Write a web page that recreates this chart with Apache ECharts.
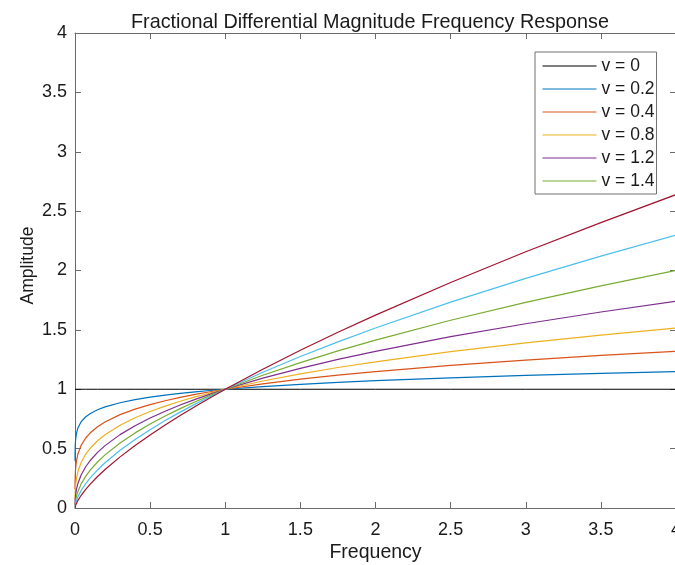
<!DOCTYPE html>
<html>
<head>
<meta charset="utf-8">
<script src="https://cdn.jsdelivr.net/npm/echarts@6/dist/echarts.min.js"></script>
<style>html,body{margin:0;padding:0;background:#fff}#c{width:675px;height:565px}</style>
</head>
<body>
<div id="c"></div>
<script>
const freq = [0.0001, 0.0005, 0.002, 0.005, 0.01, 0.02, 0.04, 0.07, 0.1, 0.15, 0.2, 0.3, 0.4, 0.5, 0.6, 0.7, 0.8, 0.9, 1, 1.25, 1.5, 1.75, 2, 2.5, 3, 3.5, 4];
const amp_v0   = [1,1,1,1,1,1,1,1,1,1,1,1,1,1,1,1,1,1,1,1,1,1,1,1,1,1,1];
const amp_v01  = [0.3981,0.4677,0.5372,0.5887,0.6310,0.6762,0.7248,0.7665,0.7943,0.8272,0.8513,0.8866,0.9124,0.9330,0.9502,0.9650,0.9779,0.9895,1,1.0226,1.0414,1.0576,1.0718,1.0960,1.1161,1.1335,1.1487];
const amp_v02  = [0.1585,0.2187,0.2886,0.3466,0.3981,0.4573,0.5253,0.5875,0.6310,0.6843,0.7248,0.7860,0.8325,0.8706,0.9029,0.9312,0.9563,0.9791,1,1.0457,1.0845,1.1185,1.1487,1.2012,1.2457,1.2848,1.3195];
const amp_v03  = [0.0631,0.1023,0.1550,0.2040,0.2512,0.3092,0.3807,0.4503,0.5012,0.5661,0.6170,0.6969,0.7596,0.8123,0.8579,0.8986,0.9352,0.9688,1,1.0693,1.1294,1.1829,1.2311,1.3165,1.3904,1.4563,1.5157];
const amp_v04  = [0.0251,0.0478,0.0833,0.1201,0.1585,0.2091,0.2759,0.3452,0.3981,0.4683,0.5253,0.6178,0.6931,0.7579,0.8152,0.8671,0.9145,0.9586,1,1.0935,1.1761,1.2510,1.3195,1.4429,1.5518,1.6507,1.7411];
const amp_v05  = [0.0100,0.0224,0.0447,0.0707,0.1000,0.1414,0.2000,0.2646,0.3162,0.3873,0.4472,0.5477,0.6325,0.7071,0.7746,0.8367,0.8944,0.9487,1,1.1180,1.2247,1.3229,1.4142,1.5811,1.7321,1.8708,2];
const amp_v06  = [0.0040,0.0105,0.0240,0.0416,0.0631,0.0956,0.1449,0.2028,0.2512,0.3205,0.3807,0.4857,0.5770,0.6598,0.7360,0.8075,0.8746,0.9386,1,1.1434,1.2755,1.3993,1.5157,1.7332,1.9332,2.1208,2.2974];
const amp_v07  = [0.0016,0.0049,0.0129,0.0245,0.0398,0.0647,0.1051,0.1554,0.1995,0.2650,0.3241,0.4305,0.5266,0.6156,0.6994,0.7791,0.8553,0.9289,1,1.1691,1.3282,1.4797,1.6245,1.8992,2.1577,2.4036,2.6390];

const legendLabels = ['v = 0', 'v = 0.2', 'v = 0.4', 'v = 0.8', 'v = 1.2', 'v = 1.4'];
const curveNames = ['v = 0', 'v = 0.2', 'v = 0.4', 'v = 0.8', 'v = 1.2', 'v = 1.4', 'extra1', 'extra2'];
const curves = [amp_v0, amp_v01, amp_v02, amp_v03, amp_v04, amp_v05, amp_v06, amp_v07];
const colors = ['#000000', '#0072BD', '#D95319', '#EDB120', '#7E2F8E', '#77AC30', '#4DBEEE', '#A2142F'];

const title = 'Fractional Differential Magnitude Frequency Response';
const xName = 'Frequency';
const yName = 'Amplitude';

const FONT = 'Liberation Sans, Arial, Helvetica, sans-serif';
const axisColor = '#6a6a6a';

const chart = echarts.init(document.getElementById('c'), null, {renderer: 'canvas'});

const series = curves.map((vals, i) => ({
  name: curveNames[i],
  type: 'line',
  xAxisIndex: 0,
  yAxisIndex: 0,
  data: freq.map((f, j) => [f, vals[j]]),
  showSymbol: false,
  symbol: 'none',
  animation: false,
  lineStyle: {color: colors[i], width: i === 0 ? 1 : 1.2},
  itemStyle: {color: colors[i]},
  z: 2 + i
}));

function axisBase() {
  return {
    min: 0, max: 4, interval: 0.5,
    axisLine: {show: true, onZero: false, lineStyle: {color: axisColor, width: 1}},
    axisTick: {show: true, inside: true, length: 6, lineStyle: {color: axisColor, width: 1}},
    splitLine: {show: false}
  };
}

chart.setOption({
  animation: false,
  backgroundColor: '#ffffff',
  title: {
    text: title,
    left: 365, top: 8, textAlign: 'center',
    textStyle: {fontFamily: FONT, fontSize: 19.8, fontWeight: 'normal', color: '#1a1a1a'}
  },
  grid: {left: 75, top: 33, width: 601, height: 475, containLabel: false, outerBoundsMode: 'none'},
  legend: {
    data: legendLabels,
    orient: 'vertical',
    left: 535, top: 52,
    padding: [5, 2, 4, 7],
    itemWidth: 54, itemHeight: 18, itemGap: 5,
    backgroundColor: '#ffffff',
    borderColor: '#707070', borderWidth: 1, borderRadius: 0,
    itemStyle: {opacity: 0},
    lineStyle: {width: 1},
    textStyle: {fontFamily: FONT, fontSize: 17.5, color: '#1a1a1a'},
    z: 20
  },
  xAxis: [
    Object.assign(axisBase(), {
      type: 'value', position: 'bottom', gridIndex: 0,
      name: xName, nameLocation: 'middle', nameGap: 35, nameMoveOverlap: false,
      nameTextStyle: {fontFamily: FONT, fontSize: 19.5, color: '#1a1a1a'},
      axisLabel: {show: true, margin: 13, fontFamily: FONT, fontSize: 18, color: '#1a1a1a'}
    }),
    Object.assign(axisBase(), {
      type: 'value', position: 'top', gridIndex: 0, axisLabel: {show: false}
    })
  ],
  yAxis: [
    Object.assign(axisBase(), {
      type: 'value', position: 'left', gridIndex: 0,
      name: yName, nameLocation: 'middle', nameGap: 38, nameRotate: 90, nameMoveOverlap: false,
      nameTextStyle: {fontFamily: FONT, fontSize: 17.5, color: '#1a1a1a', padding: [0, 0, 0, 10]},
      axisLabel: {show: true, margin: 8, fontFamily: FONT, fontSize: 18, color: '#1a1a1a'}
    }),
    Object.assign(axisBase(), {
      type: 'value', position: 'right', gridIndex: 0, axisLabel: {show: false}
    })
  ],
  series: series
});
</script>
</body>
</html>
